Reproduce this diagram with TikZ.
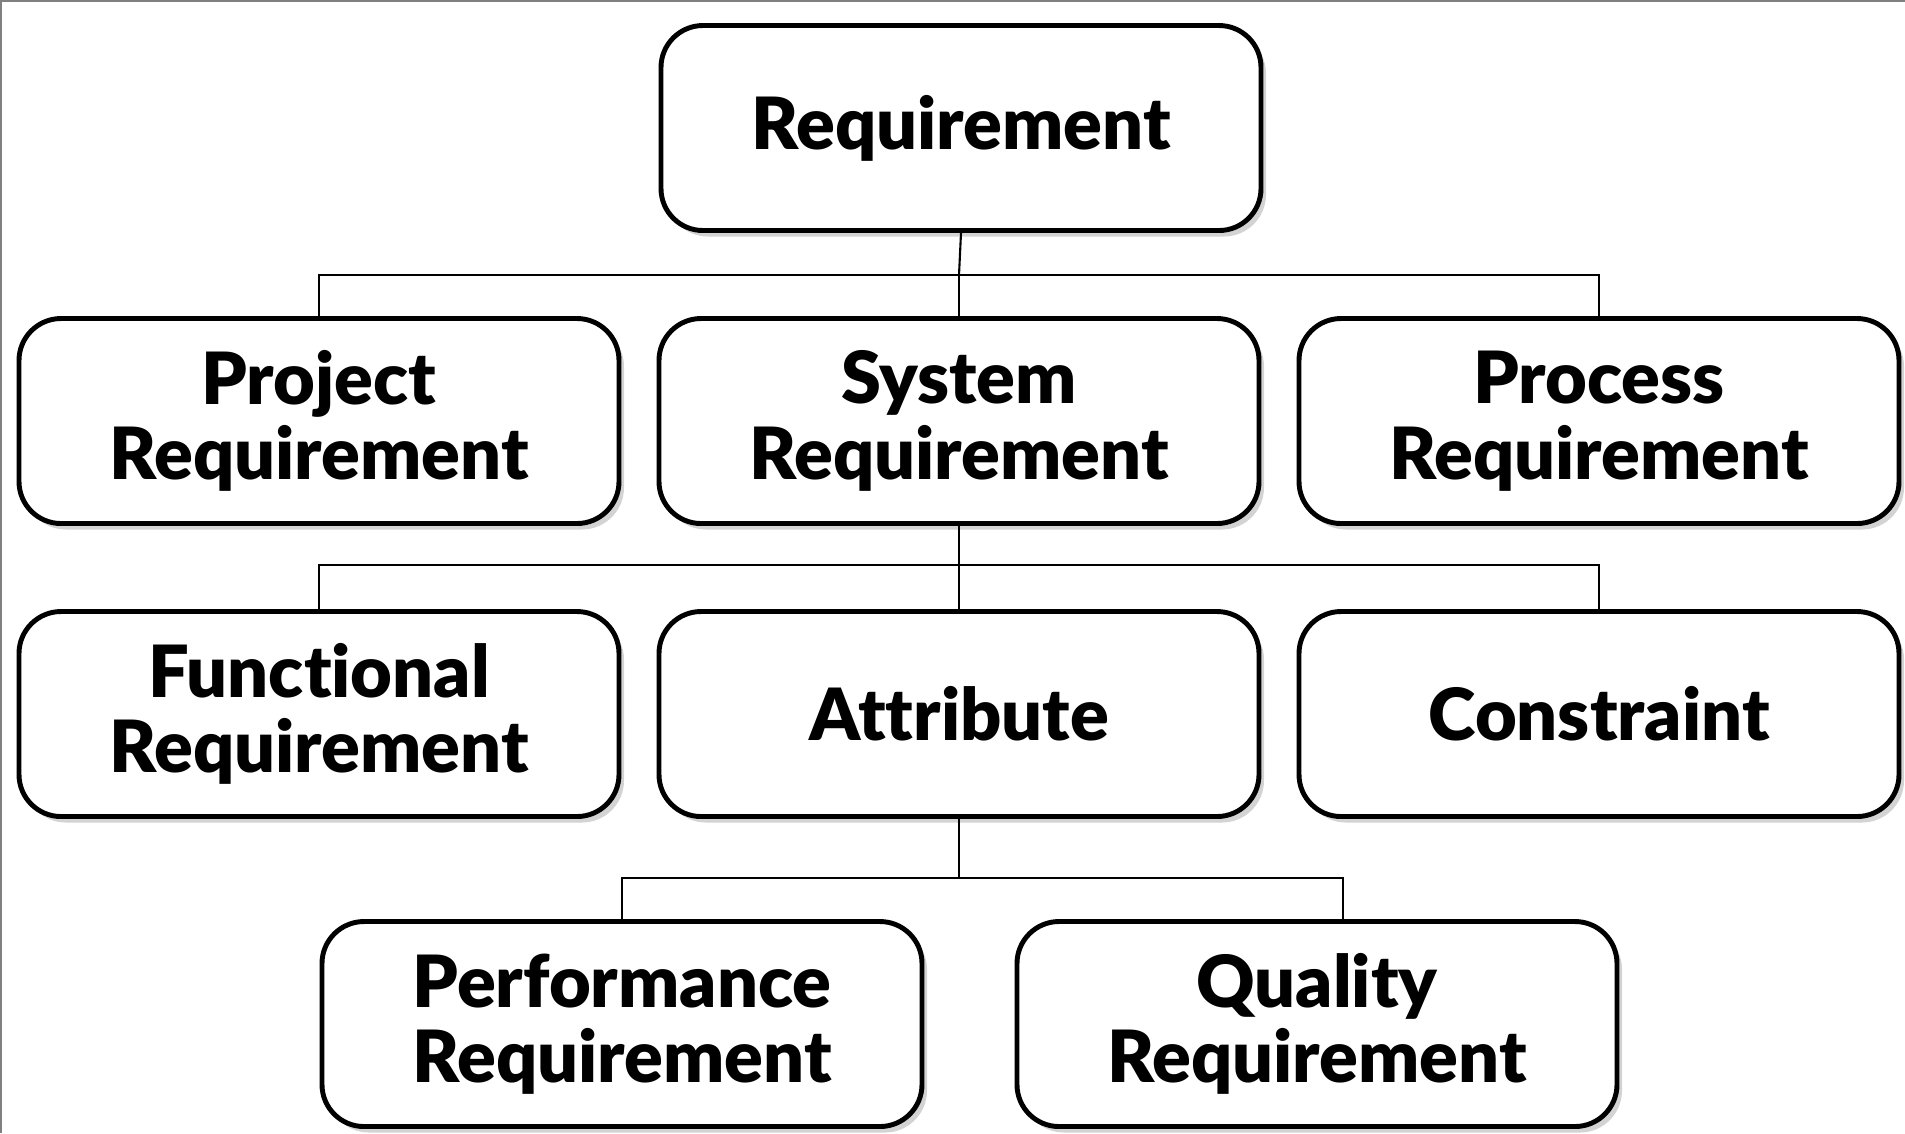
\documentclass[tikz,border=0pt]{standalone}
\usepackage{fontspec}
\setmainfont{Lato}[BoldFont={Lato Black}, RawFeature={-liga;-clig;-dlig;-calt}]
\usetikzlibrary{shadows}

\tikzset{
  reqbox/.style={draw, line width=1.4pt, rounded corners=0.42cm, fill=white,
    minimum width=6.0cm, minimum height=2.05cm, align=center,
    font=\fontsize{20.5}{21.5}\selectfont\bfseries,
    drop shadow={shadow xshift=0.05cm, shadow yshift=-0.06cm, opacity=0.35}},
  link/.style={line width=0.6pt}
}

\begin{document}
\begin{tikzpicture}
        \useasboundingbox (0,0) rectangle (19.05,-11.33);
        \draw[gray, line width=1.2pt] (0,-11.33) -- (0,0) -- (19.05,0);

        % Top level
        \node[reqbox] (req) at (9.61,-1.28) {Requirement};

        % Second row
        \node[reqbox] (proj) at (3.19,-4.21) {Project\\Requirement};
        \node[reqbox] (sys) at (9.59,-4.21) {System\\Requirement};
        \node[reqbox] (proc) at (15.99,-4.21) {Process\\Requirement};

        % Third row
        \node[reqbox] (func) at (3.19,-7.14) {Functional\\Requirement};
        \node[reqbox] (attr) at (9.59,-7.14) {Attribute};
        \node[reqbox] (cons) at (15.99,-7.14) {Constraint};

        % Bottom row
        \node[reqbox] (perf) at (6.22,-10.24) {Performance\\Requirement};
        \node[reqbox] (qual) at (13.17,-10.24) {Quality\\Requirement};

        % Connectors
        \coordinate (b1) at (9.59,-2.75);
        \coordinate (b2) at (9.59,-5.65);
        \coordinate (b3) at (9.59,-8.78);
        \draw[link] (req.south) -- (b1);
        \draw[link] (proj.north) |- (b1) -| (proc.north);
        \draw[link] (b1) -- (sys.north);
        \draw[link] (sys.south) -- (b2);
        \draw[link] (func.north) |- (b2) -| (cons.north);
        \draw[link] (b2) -- (attr.north);
        \draw[link] (attr.south) -- (b3);
        \draw[link] (perf.north) |- (b3) -| ([xshift=0.26cm]qual.north);
\end{tikzpicture}
\end{document}
